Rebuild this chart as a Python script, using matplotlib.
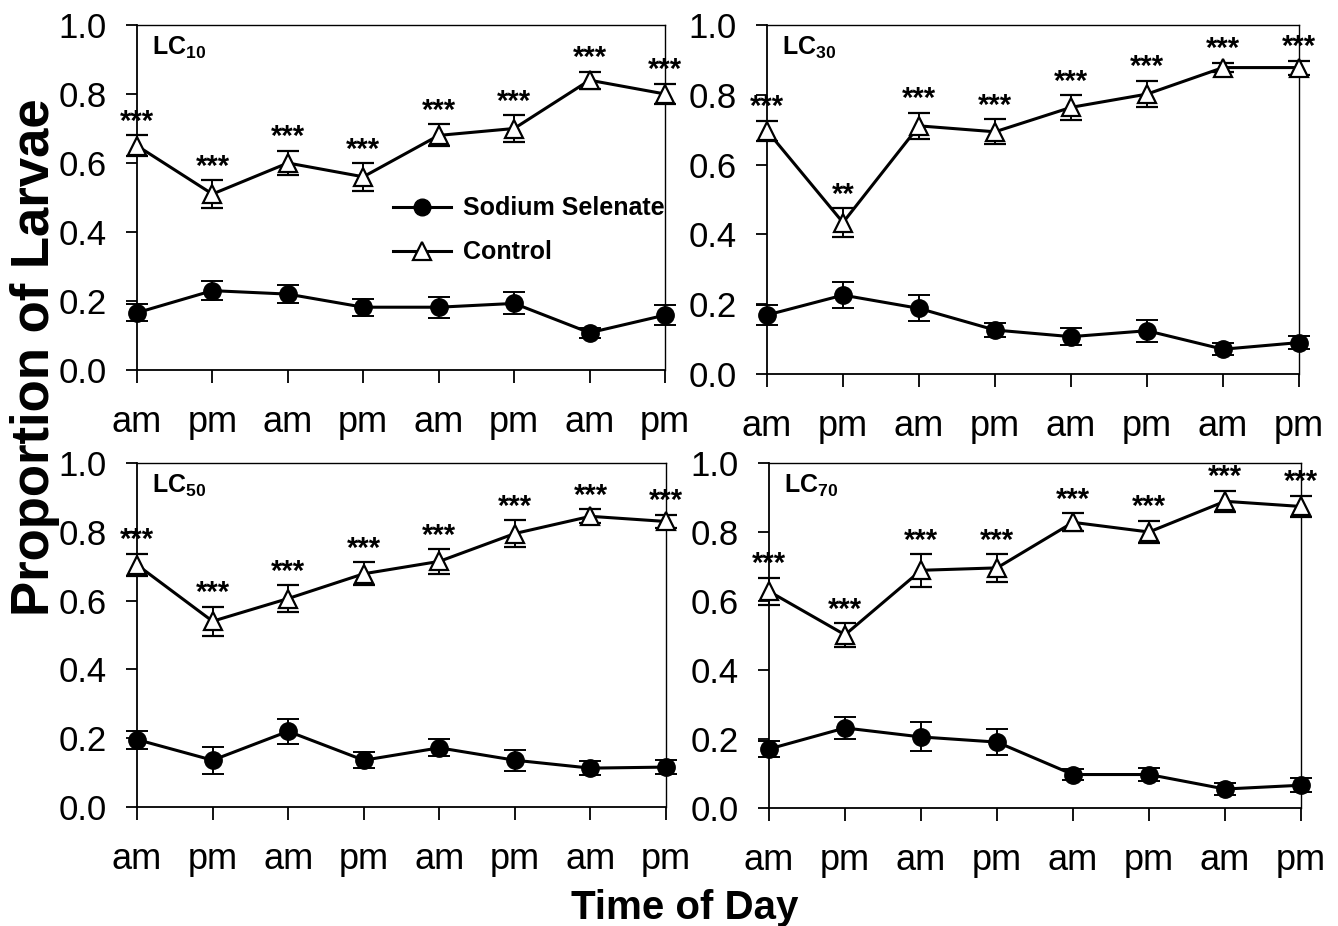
import matplotlib
matplotlib.use("Agg")
import matplotlib.pyplot as plt
from matplotlib.lines import Line2D

plt.rcParams['font.family'] = ['Liberation Sans', 'DejaVu Sans']
plt.rcParams['mathtext.fontset'] = 'custom'
plt.rcParams['mathtext.rm'] = 'Liberation Sans'
plt.rcParams['mathtext.bf'] = 'Liberation Sans:bold'

tick_labels = ['am', 'pm', 'am', 'pm', 'am', 'pm', 'am', 'pm']
panel_names = ['LC10', 'LC30', 'LC50', 'LC70']

control = {
    'LC10': [0.65, 0.51, 0.60, 0.56, 0.68, 0.70, 0.84, 0.80],
    'LC30': [0.697, 0.434, 0.711, 0.694, 0.764, 0.802, 0.878, 0.878],
    'LC50': [0.704, 0.54, 0.606, 0.678, 0.714, 0.795, 0.845, 0.83],
    'LC70': [0.628, 0.502, 0.689, 0.696, 0.828, 0.80, 0.889, 0.874],
}
control_err = {
    'LC10': [0.03, 0.04, 0.035, 0.04, 0.032, 0.038, 0.025, 0.03],
    'LC30': [0.028, 0.041, 0.038, 0.036, 0.035, 0.038, 0.014, 0.02],
    'LC50': [0.032, 0.042, 0.038, 0.033, 0.036, 0.038, 0.02, 0.02],
    'LC70': [0.039, 0.034, 0.047, 0.04, 0.026, 0.033, 0.03, 0.031],
}
selenate = {
    'LC10': [0.166, 0.23, 0.22, 0.182, 0.182, 0.193, 0.108, 0.159],
    'LC30': [0.169, 0.226, 0.188, 0.126, 0.107, 0.124, 0.071, 0.09],
    'LC50': [0.196, 0.136, 0.22, 0.136, 0.172, 0.136, 0.113, 0.116],
    'LC70': [0.171, 0.232, 0.206, 0.191, 0.097, 0.097, 0.055, 0.066],
}
selenate_err = {
    'LC10': [0.025, 0.028, 0.025, 0.025, 0.031, 0.032, 0.015, 0.03],
    'LC30': [0.028, 0.038, 0.037, 0.021, 0.025, 0.032, 0.017, 0.019],
    'LC50': [0.026, 0.039, 0.036, 0.023, 0.025, 0.031, 0.02, 0.02],
    'LC70': [0.023, 0.033, 0.042, 0.038, 0.017, 0.019, 0.018, 0.02],
}
stars = {
    'LC10': ['***'] * 8,
    'LC30': ['***', '**'] + ['***'] * 6,
    'LC50': ['***'] * 8,
    'LC70': ['***'] * 8,
}

fig = plt.figure(figsize=(13.38, 9.26), dpi=100)
W, H = 1338, 926
boxes = {
    'LC10': (137, 665, 25, 370),
    'LC30': (767, 1299, 25, 374),
    'LC50': (137, 666, 463, 807),
    'LC70': (769, 1301, 463, 808),
}

x = list(range(len(tick_labels)))

def noclip(cont):
    line, caps, bars = cont.lines
    for a in [line, *caps, *bars]:
        if a is not None:
            a.set_clip_on(False)

for name in panel_names:
    l, r, t, b = boxes[name]
    ax = fig.add_axes([l / W, 1 - b / H, (r - l) / W, (b - t) / H])
    ax.set_xlim(0, 7)
    ax.set_ylim(0, 1.0)

    c1 = ax.errorbar(x, selenate[name], yerr=selenate_err[name], fmt='-o', color='black',
                     lw=2.2, ms=12.5, elinewidth=1.4, capsize=8, capthick=1.4, zorder=3)
    noclip(c1)
    c2 = ax.errorbar(x, control[name], yerr=control_err[name], fmt='-^', color='black',
                     mfc='white', mec='black', mew=1.6, lw=2.2, ms=13,
                     elinewidth=1.4, capsize=8, capthick=1.4, zorder=3)
    noclip(c2)

    for xi, yi, ei, s in zip(x, control[name], control_err[name], stars[name]):
        ax.annotate(s, (xi, yi + ei), xytext=(0, 4), textcoords='offset points',
                    ha='center', va='baseline', fontsize=21, fontweight='bold',
                    annotation_clip=False)

    sub = name[2:]
    ax.text(0.028, 0.972, r'$\mathbf{LC_{%s}}$' % sub, transform=ax.transAxes,
            ha='left', va='top', fontsize=18)

    ax.set_xticks(x)
    ax.set_xticklabels(tick_labels)
    ax.set_yticks([0.0, 0.2, 0.4, 0.6, 0.8, 1.0])
    ax.set_yticklabels(['0.0', '0.2', '0.4', '0.6', '0.8', '1.0'])
    ax.tick_params(axis='x', direction='out', length=9, width=1.3, pad=16, labelsize=26)
    ax.tick_params(axis='y', direction='out', length=8, width=1.3, pad=14, labelsize=25)
    for sp in ['left', 'bottom']:
        ax.spines[sp].set_linewidth(1.3)
    for sp in ['top', 'right']:
        ax.spines[sp].set_linewidth(1.0)

    if name == 'LC10':
        handles = [
            Line2D([], [], color='black', lw=2.2, marker='o', ms=12),
            Line2D([], [], color='black', lw=2.2, marker='^', ms=13, mfc='white', mew=1.6),
        ]
        ax.legend(handles, ['Sodium Selenate', 'Control'], loc='center left',
                  bbox_to_anchor=(0.485, 0.405), frameon=False, borderpad=0,
                  borderaxespad=0, handlelength=2.3, handletextpad=0.5,
                  labelspacing=0.8, prop={'weight': 'bold', 'size': 18})

fig.text(0.026, 0.614, 'Proportion of Larvae', rotation=90, ha='center', va='center',
         fontsize=38, fontweight='bold')
fig.text(0.512, 0.008, 'Time of Day', ha='center', va='baseline',
         fontsize=29, fontweight='bold')

fig.savefig('out.png', dpi=100)
